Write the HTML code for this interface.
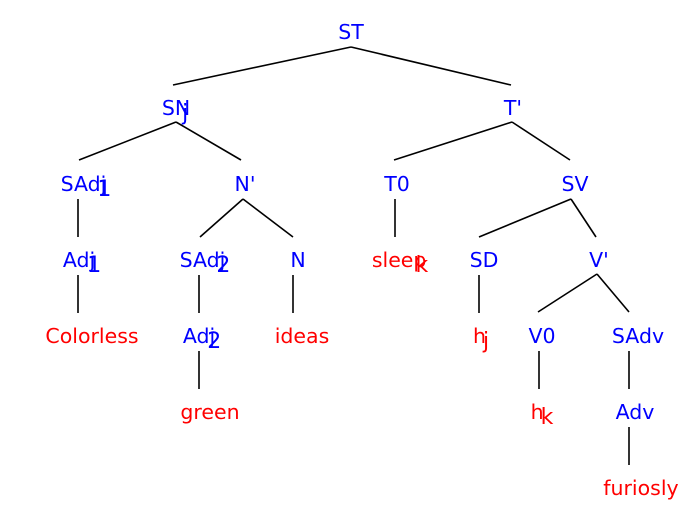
<!DOCTYPE html>
<html><head><meta charset="utf-8"><style>
html,body{margin:0;padding:0;background:#fff;}
svg{display:block}
text{font-family:"DejaVu Sans","Liberation Sans",sans-serif;font-size:20.5px;text-anchor:middle}
tspan{font-size:22px}
.b{fill:#0000ff}.r{fill:#ff0000}
line{stroke:#000;stroke-width:1.6}
</style></head><body>
<svg width="697" height="512" viewBox="0 0 697 512">
<g>
<line x1="351" y1="47" x2="173" y2="85"/><line x1="351" y1="47" x2="511" y2="85"/>
<line x1="176" y1="122" x2="79" y2="160"/><line x1="176" y1="122" x2="241" y2="160"/>
<line x1="512" y1="122" x2="394" y2="160"/><line x1="512" y1="122" x2="570" y2="160"/>
<line x1="78" y1="199" x2="78" y2="237"/>
<line x1="243" y1="199" x2="200" y2="237"/><line x1="243" y1="199" x2="293" y2="237"/>
<line x1="395" y1="199" x2="395" y2="237"/>
<line x1="571" y1="199" x2="479" y2="237"/><line x1="571" y1="199" x2="596" y2="237"/>
<line x1="78" y1="275" x2="78" y2="313"/>
<line x1="199" y1="275" x2="199" y2="313"/>
<line x1="293" y1="275" x2="293" y2="313"/>
<line x1="479" y1="275" x2="479" y2="313"/>
<line x1="597" y1="274" x2="538" y2="312"/><line x1="597" y1="274" x2="629" y2="312"/>
<line x1="199" y1="351" x2="199" y2="389"/>
<line x1="539" y1="351" x2="539" y2="389"/>
<line x1="629" y1="351" x2="629" y2="389"/>
<line x1="629" y1="427" x2="629" y2="465"/>
</g>
<text class="b" x="351" y="39">ST</text>
<text class="b" x="176" y="115">SN<tspan dx="-8" dy="5">j</tspan></text>
<text class="b" x="513" y="115">T'</text>
<text class="b" x="86" y="191">SAdj<tspan dx="-9" dy="5">1</tspan></text>
<text class="b" x="245" y="191">N'</text>
<text class="b" x="397" y="191">T0</text>
<text class="b" x="575" y="191">SV</text>
<text class="b" x="82" y="267">Adj<tspan dx="-8" dy="5">1</tspan></text>
<text class="b" x="205" y="267">SAdj<tspan dx="-9" dy="5">2</tspan></text>
<text class="b" x="298" y="267">N</text>
<text class="r" x="400" y="267">sleep<tspan dx="-11" dy="5">k</tspan></text>
<text class="b" x="484" y="267">SD</text>
<text class="b" x="599" y="267">V'</text>
<text class="r" x="92" y="343">Colorless</text>
<text class="b" x="202" y="343">Adj<tspan dx="-8" dy="5">2</tspan></text>
<text class="r" x="302" y="343">ideas</text>
<text class="r" x="481" y="343">h<tspan dx="-3" dy="5">j</tspan></text>
<text class="b" x="542" y="343">V0</text>
<text class="b" x="638" y="343">SAdv</text>
<text class="r" x="210" y="419">green</text>
<text class="r" x="542" y="419">h<tspan dx="-3" dy="5">k</tspan></text>
<text class="b" x="635" y="419">Adv</text>
<text class="r" x="641" y="495">furiosly</text>
</svg>
</body></html>
